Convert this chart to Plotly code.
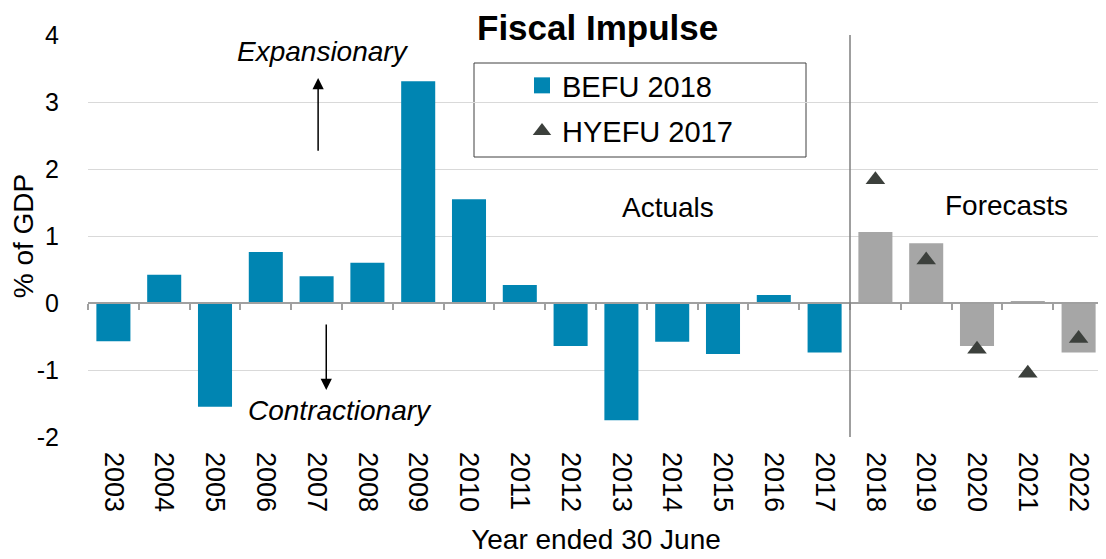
import plotly.graph_objects as go

# data (% of GDP, year ended 30 June)
years = [str(y) for y in range(2003, 2023)]
befu_2018 = [-0.57, 0.42, -1.55, 0.76, 0.40, 0.60, 3.31, 1.55, 0.27, -0.64,
             -1.75, -0.58, -0.76, 0.12, -0.74, 1.06, 0.89, -0.64, 0.02, -0.74]
hyefu_years = ['2018', '2019', '2020', '2021', '2022']
hyefu_2017 = [1.84, 0.64, -0.69, -1.05, -0.53]
n_actual = 15  # 2003-2017 actuals, 2018-2022 forecasts
y_ticks = [-2, -1, 0, 1, 2, 3, 4]
y_ticktext = [str(v) for v in y_ticks]  # plain hyphen minus, like the original

BLUE = '#0085B2'
GREY = '#A6A6A6'
DARK = '#3C403C'
FONT = 'Liberation Sans, Arial, sans-serif'

# plot area in page pixels (the page body adds 8px margin)
PL, PR, PT, PB = 88, 1104, 35, 437
PW, PH = PR - PL, PB - PT

bar_colors = [BLUE if i < n_actual else GREY for i in range(len(years))]

fig = go.Figure()

fig.add_trace(go.Bar(
    x=years, y=befu_2018, name='BEFU 2018',
    marker=dict(color=bar_colors, line=dict(width=0)),
    showlegend=False,
))

# legend entry with a bigger square than plotly's bar swatch
fig.add_trace(go.Scatter(
    x=[None], y=[None], name='BEFU 2018', mode='markers',
    marker=dict(symbol='square', size=16, color=BLUE),
    legendgroup='a',
))

fig.add_trace(go.Scatter(
    x=hyefu_years, y=hyefu_2017, name='HYEFU 2017', mode='markers',
    marker=dict(symbol='triangle-up', size=17, color=DARK),
    legendgroup='b',
))

# invisible trace so the zero-line axis (with boundary ticks) gets drawn
fig.add_trace(go.Scatter(
    x=list(range(len(years))), y=[0] * len(years), xaxis='x2',
    mode='lines', line=dict(width=0), showlegend=False, hoverinfo='skip',
))

# boundary between actuals and forecasts
fig.add_shape(type='line', xref='x', yref='paper',
              x0=n_actual - 0.5, x1=n_actual - 0.5, y0=0, y1=1,
              line=dict(color='#7F7F7F', width=1.5))

# legend frame
fig.add_shape(type='rect', xref='paper', yref='paper',
              x0=(474 - PL) / PW, x1=(806 - PL) / PW,
              y0=(PB - 157) / PH, y1=(PB - 63) / PH,
              line=dict(color='#404040', width=1), fillcolor='white', layer='below')

# white gap in the top gridline behind the title
fig.add_shape(type='rect', xref='paper', yref='paper',
              x0=(434 - PL) / PW, x1=(761 - PL) / PW,
              y0=(PB - 40) / PH, y1=(PB - 30) / PH,
              line=dict(width=0), fillcolor='white', layer='above')

ann_font = dict(family=FONT, size=28, color='black')
fig.add_annotation(x=4.13, y=3.75, text='<i>Expansionary</i>', showarrow=False, font=ann_font)
fig.add_annotation(x=4.46, y=-1.61, text='<i>Contractionary</i>', showarrow=False, font=ann_font)
fig.add_annotation(x=10.92, y=1.43, text='Actuals', showarrow=False, font=ann_font)
fig.add_annotation(x=17.59, y=1.46, text='Forecasts', showarrow=False, font=ann_font)

# direction arrows
fig.add_annotation(x=4.03, y=3.36, ax=4.03, ay=2.25, axref='x', ayref='y',
                   text='', showarrow=True, arrowhead=2, arrowsize=1.5,
                   arrowwidth=1.5, arrowcolor='black')
fig.add_annotation(x=4.19, y=-1.30, ax=4.19, ay=-0.30, axref='x', ayref='y',
                   text='', showarrow=True, arrowhead=2, arrowsize=1.5,
                   arrowwidth=1.5, arrowcolor='black')

# title
fig.add_annotation(x=(597 - PL) / PW, y=(PB - 28) / PH, xref='paper', yref='paper',
                   xanchor='center', yanchor='middle',
                   text='<b>Fiscal Impulse</b>', showarrow=False,
                   font=dict(family=FONT, size=35, color='black'), borderpad=0)

fig.update_layout(
    width=1106, height=559,
    margin=dict(l=PL - 8, r=1106 - PR + 8, t=PT - 8, b=559 - PB + 8, autoexpand=False),
    plot_bgcolor='white', paper_bgcolor='white',
    font=dict(family=FONT, color='black'),
    showlegend=True,
    barmode='overlay', bargap=0.33,
    legend=dict(x=(522 - PL) / PW, y=(PB - 60) / PH, xanchor='left', yanchor='top',
                bgcolor='rgba(0,0,0,0)', borderwidth=0,
                font=dict(family=FONT, size=29, color='black'),
                traceorder='grouped', tracegroupgap=5),
    xaxis=dict(
        type='category', range=[-0.5, len(years) - 0.5],
        tickangle=90, tickfont=dict(family=FONT, size=27, color='black'),
        ticklabelstandoff=14,
        showgrid=False, showline=False, ticks='', zeroline=False,
        title=dict(text='Year ended 30 June', font=dict(family=FONT, size=28, color='black'),
                   standoff=18),
    ),
    xaxis2=dict(
        overlaying='x', anchor='free', position=1 / 3, side='bottom',
        range=[-0.5, len(years) - 0.5],
        tickvals=[i - 0.5 for i in range(len(years) + 1)],
        ticks='outside', ticklen=6, tickcolor='#A0A0A0', tickwidth=1.5,
        showticklabels=False, showgrid=False, zeroline=False,
        showline=True, linecolor='#A0A0A0', linewidth=1.5,
    ),
    yaxis=dict(
        range=[-2, 4], tickvals=y_ticks, ticktext=y_ticktext, ticks='',
        showgrid=True, gridcolor='#D9D9D9', gridwidth=1.2,
        zeroline=False, showline=False,
        ticklabelstandoff=28,
        tickfont=dict(family=FONT, size=25, color='black'),
        title=dict(text='% of GDP', font=dict(family=FONT, size=28, color='black'),
                   standoff=6),
    ),
)

fig.write_html('out.html')
